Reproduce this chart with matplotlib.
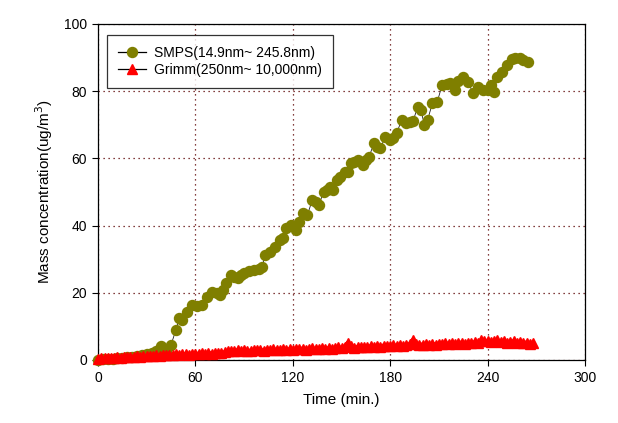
#!/usr/bin/env python3
"""SMPS vs Grimm mass concentration over time."""

import matplotlib
matplotlib.use("Agg")
import matplotlib.pyplot as plt

plt.rcParams["font.family"] = ["Liberation Sans", "DejaVu Sans"]

# SMPS (14.9nm ~ 245.8nm), time in min and mass concentration in ug/m3
smps_t = [0, 3, 6, 9, 12, 15, 18, 21, 24, 27, 30, 33, 36, 39, 42, 45, 48, 50,
          52, 55, 58, 61, 64, 67, 70, 73, 75, 77, 79, 82, 84, 86, 88, 90, 93,
          96, 99, 101, 103, 106, 109, 112, 114, 116, 119, 122, 124, 126, 129,
          132, 134, 136, 139, 141, 143, 145, 147, 149, 152, 154, 156, 158, 160,
          163, 165, 167, 170, 172, 174, 177, 180, 182, 184, 187, 190, 192, 194,
          197, 199, 201, 203, 206, 209, 212, 215, 217, 220, 222, 225, 228, 231,
          234, 237, 240, 242, 244, 246, 249, 252, 255, 257, 260, 262, 265]
smps_y = [0.0, 0.2, 0.3, 0.3, 0.5, 0.6, 0.8, 1.0, 1.2, 1.5, 1.8, 2.2, 2.6, 4.2,
          2.8, 4.5, 9.0, 12.5, 11.9, 14.3, 16.4, 16.0, 16.4, 18.8, 20.3, 19.8,
          19.3, 20.8, 23.0, 25.3, 24.8, 24.4, 25.2, 25.9, 26.5, 26.8, 27.2, 27.8,
          31.2, 32.2, 33.5, 35.7, 36.3, 39.2, 40.2, 38.7, 41.0, 43.7, 43.2, 47.6,
          47.0, 46.1, 50.0, 50.6, 51.6, 50.6, 53.5, 54.6, 56.0, 55.8, 58.5, 58.8,
          59.5, 58.0, 59.5, 60.5, 64.5, 63.5, 63.0, 66.5, 65.5, 66.0, 67.5, 71.4,
          70.4, 70.9, 71.0, 75.4, 74.4, 69.9, 71.4, 76.4, 76.9, 81.8, 82.0, 82.3,
          80.4, 83.0, 84.3, 82.8, 79.4, 81.3, 80.4, 80.4, 81.8, 79.9, 84.3, 85.8,
          87.8, 89.5, 89.8, 89.8, 89.3, 88.8]

# Grimm (250nm ~ 10,000nm), sampled every 2 min
grimm_t = list(range(0, 270, 2))
grimm_y = [0.3, 0.5, 0.6, 0.5, 0.7, 0.6, 0.8, 0.7, 0.9, 0.8, 1.0,
           0.9, 1.1, 1.0, 1.2, 1.1, 1.3, 1.2, 1.4, 1.3, 1.5,
           1.4, 1.6, 1.5, 1.7, 1.6, 1.8, 1.7, 1.6, 1.8, 1.9,
           1.8, 2.0, 1.9, 2.1, 1.9, 2.0, 2.2, 2.1, 2.3, 2.6,
           2.8, 2.7, 2.9, 2.6, 3.0, 2.8, 2.7, 3.1, 2.9, 3.0,
           2.8, 3.1, 3.0, 3.2, 2.9, 3.1, 3.3, 3.0, 3.2, 3.1,
           3.3, 3.2, 3.4, 3.1, 3.3, 3.5, 3.2, 3.4, 3.6, 3.3,
           3.5, 3.4, 3.6, 3.8, 3.5, 4.0, 5.2, 4.2, 3.7, 3.9,
           3.8, 4.0, 3.9, 4.1, 3.8, 4.2, 4.0, 4.3, 4.1, 4.2,
           4.4, 4.1, 4.5, 4.3, 4.4, 4.7, 6.0, 4.9, 4.5, 4.6,
           4.7, 4.5, 4.8, 4.6, 4.9, 4.7, 5.0, 4.8, 5.1, 4.9,
           5.0, 5.2, 4.9, 5.1, 5.0, 5.3, 5.1, 5.8, 5.5, 5.7,
           5.4, 5.6, 5.8, 5.3, 5.5, 5.2, 5.4, 5.6, 5.1, 5.3,
           5.0, 5.2, 4.9, 5.0]

x_ticks = [0, 60, 120, 180, 240, 300]
y_ticks = [0, 20, 40, 60, 80, 100]


def main() -> None:
    fig = plt.figure(figsize=(6.18, 4.23), dpi=100)
    ax = fig.add_axes([0.1586, 0.149, 0.788, 0.7943])

    ax.plot(smps_t, smps_y, color="#202020", linewidth=0.6, marker="o",
            markersize=7.2, markerfacecolor="#7f7f00", markeredgecolor="#7f7f00",
            label="SMPS(14.9nm~ 245.8nm)", clip_on=False, zorder=3)
    ax.plot(grimm_t, grimm_y, color="#ff0000", linewidth=3.0, marker="^",
            markersize=6.5, markerfacecolor="#ff0000", markeredgecolor="#ff0000",
            label="Grimm(250nm~ 10,000nm)", clip_on=False, zorder=4)

    ax.set_xlim(0, 300)
    ax.set_ylim(0, 100)
    ax.set_xticks(x_ticks)
    ax.set_yticks(y_ticks)
    ax.tick_params(direction="out", length=4, width=0.8, labelsize=10, pad=4)
    ax.grid(True, color="#5a0000", linestyle=(0, (1, 3)), linewidth=0.9)
    ax.set_axisbelow(True)
    for sp in ax.spines.values():
        sp.set_linewidth(0.9)

    ax.set_xlabel("Time (min.)", fontsize=11, labelpad=6)
    ax.set_ylabel("Mass concentration(ug/m$^3$)", fontsize=11, labelpad=6)

    leg = ax.legend(loc="upper left", bbox_to_anchor=(0.018, 0.968), fontsize=10,
                    frameon=True, fancybox=False, edgecolor="black",
                    handlelength=2.0, handletextpad=0.6, borderpad=0.8,
                    borderaxespad=0, labelspacing=0.25)
    leg.get_frame().set_linewidth(0.9)
    for line in leg.get_lines():
        line.set_color("black")
        line.set_linewidth(0.9)

    fig.savefig("out.png", dpi=100)


if __name__ == "__main__":
    main()
